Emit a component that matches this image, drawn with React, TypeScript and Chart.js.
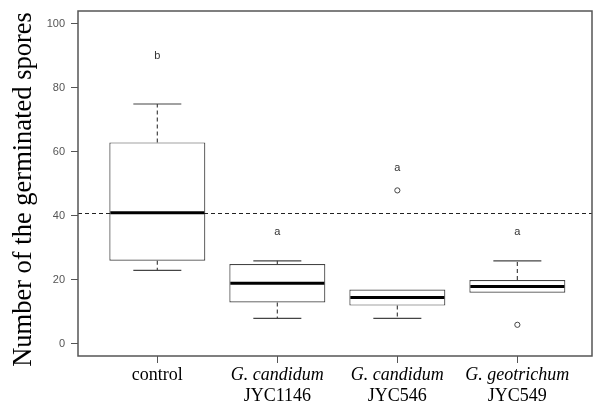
import React, { useEffect, useRef } from "react";
import { Chart, registerables } from "chart.js";

Chart.register(...registerables);

// ---- data ----
const positions = [1, 2, 3, 4];
const labelLine1 = ["control", "G. candidum", "G. candidum", "G. geotrichum"];
const labelLine1Italic = [false, true, true, true];
const labelLine2 = ["", "JYC1146", "JYC546", "JYC549"];
const whiskerLow = [23, 8, 8, 16];
const q1 = [26, 13, 12, 16];
const median = [41, 19, 14.5, 18];
const q3 = [63, 25, 17, 20];
const whiskerHigh = [75, 26, 17, 26];
const outlierGroup = [3, 4];
const outlierValue = [48, 6];
const letters = ["b", "a", "a", "a"];
const letterValue = [90, 35, 55, 35];
const referenceValue = 41;
const yTicks = [0, 20, 40, 60, 80, 100];
const yTitle = "Number of the germinated spores";

const SERIF = "'Liberation Serif', 'Times New Roman', serif";
const SANS = "'Liberation Sans', Arial, sans-serif";

const boxPlugin = {
  id: "boxExtras",
  afterDatasetsDraw(chart: any) {
    const { ctx, chartArea } = chart;
    const xs = chart.scales.x;
    const ys = chart.scales.y;
    ctx.save();
    ctx.strokeStyle = "#222";
    ctx.lineWidth = 1;
    ctx.setLineDash([4, 3]);
    const ry = Math.round(ys.getPixelForValue(referenceValue)) + 0.5;
    ctx.beginPath();
    ctx.moveTo(chartArea.left, ry);
    ctx.lineTo(chartArea.right, ry);
    ctx.stroke();

    positions.forEach((p, i) => {
      const cx = xs.getPixelForValue(p);
      const capL = xs.getPixelForValue(p - 0.2);
      const capR = xs.getPixelForValue(p + 0.2);
      const boxL = xs.getPixelForValue(p - 0.4);
      const boxR = xs.getPixelForValue(p + 0.4);
      ctx.strokeStyle = "#444";
      ctx.lineWidth = 1.2;
      if (whiskerHigh[i] > q3[i]) {
        ctx.setLineDash([4, 3]);
        ctx.beginPath();
        ctx.moveTo(cx, ys.getPixelForValue(q3[i]));
        ctx.lineTo(cx, ys.getPixelForValue(whiskerHigh[i]));
        ctx.stroke();
        ctx.setLineDash([]);
        ctx.beginPath();
        ctx.moveTo(capL, ys.getPixelForValue(whiskerHigh[i]));
        ctx.lineTo(capR, ys.getPixelForValue(whiskerHigh[i]));
        ctx.stroke();
      }
      if (whiskerLow[i] < q1[i]) {
        ctx.setLineDash([4, 3]);
        ctx.beginPath();
        ctx.moveTo(cx, ys.getPixelForValue(q1[i]));
        ctx.lineTo(cx, ys.getPixelForValue(whiskerLow[i]));
        ctx.stroke();
        ctx.setLineDash([]);
        ctx.beginPath();
        ctx.moveTo(capL, ys.getPixelForValue(whiskerLow[i]));
        ctx.lineTo(capR, ys.getPixelForValue(whiskerLow[i]));
        ctx.stroke();
      }
      ctx.setLineDash([]);
      ctx.strokeStyle = "#000";
      ctx.lineWidth = 3;
      ctx.beginPath();
      ctx.moveTo(boxL + 1, ys.getPixelForValue(median[i]));
      ctx.lineTo(boxR - 1, ys.getPixelForValue(median[i]));
      ctx.stroke();
      ctx.fillStyle = "#333";
      ctx.font = `11px ${SANS}`;
      ctx.textAlign = "center";
      ctx.textBaseline = "middle";
      ctx.fillText(letters[i], cx, ys.getPixelForValue(letterValue[i]));
    });
    ctx.restore();
  },
  afterDraw(chart: any) {
    const { ctx, chartArea } = chart;
    const xs = chart.scales.x;
    ctx.save();
    ctx.strokeStyle = "#555";
    ctx.lineWidth = 1.5;
    ctx.strokeRect(chartArea.left, chartArea.top, chartArea.right - chartArea.left, chartArea.bottom - chartArea.top);
    ctx.fillStyle = "#000";
    ctx.textAlign = "center";
    ctx.textBaseline = "alphabetic";
    positions.forEach((p, i) => {
      const cx = xs.getPixelForValue(p);
      ctx.font = `${labelLine1Italic[i] ? "italic " : ""}18px ${SERIF}`;
      ctx.fillText(labelLine1[i], cx, chartArea.bottom + 24);
      if (labelLine2[i]) {
        ctx.font = `18px ${SERIF}`;
        ctx.fillText(labelLine2[i], cx, chartArea.bottom + 45);
      }
    });
    ctx.translate(31, (chartArea.top + chartArea.bottom) / 2 + 6);
    ctx.rotate(-Math.PI / 2);
    ctx.font = `26.5px ${SERIF}`;
    ctx.fillText(yTitle, 0, 0);
    ctx.restore();
  },
};

export default function App() {
  const ref = useRef<HTMLCanvasElement | null>(null);
  useEffect(() => {
    if (!ref.current) return;
    const chart = new Chart(ref.current, {
      type: "bar",
      data: {
        datasets: [
          {
            type: "bar",
            data: positions.map((p, i) => ({ x: p, y: [q1[i], q3[i]] })) as any,
            backgroundColor: "#fff",
            borderColor: "#444",
            borderWidth: 1.2,
            borderSkipped: false,
            categoryPercentage: 0.8,
            barPercentage: 1,
          } as any,
          {
            type: "scatter",
            data: outlierGroup.map((g, i) => ({ x: g, y: outlierValue[i] })),
            pointStyle: "circle",
            pointRadius: 2.6,
            borderColor: "#444",
            borderWidth: 1,
            backgroundColor: "#fff",
          } as any,
        ],
      },
      options: {
        animation: false,
        responsive: false,
        layout: { autoPadding: false, padding: { top: 11, right: 2, left: 0, bottom: 0 } },
        plugins: { legend: { display: false }, tooltip: { enabled: false } },
        scales: {
          x: {
            type: "linear",
            offset: false,
            min: 0.339,
            max: 4.622,
            afterBuildTicks: (s: any) => {
              s.ticks = positions.map((v) => ({ value: v }));
            },
            afterFit: (s: any) => {
              s.height = 49;
              s.paddingLeft = 0;
              s.paddingRight = 0;
            },
            ticks: { callback: () => "", maxRotation: 0, padding: 0 },
            grid: { offset: false, drawOnChartArea: false, drawTicks: true, tickLength: 7, color: "#555" },
            border: { display: false },
          },
          y: {
            type: "linear",
            min: -3.75,
            max: 104.06,
            afterBuildTicks: (s: any) => {
              s.ticks = yTicks.map((v) => ({ value: v }));
            },
            afterFit: (s: any) => {
              s.width = 78;
              s.paddingTop = 0;
              s.paddingBottom = 0;
            },
            ticks: { color: "#555", font: { family: SANS, size: 11 }, padding: 6 },
            grid: { drawOnChartArea: false, drawTicks: true, tickLength: 7, color: "#555" },
            border: { display: false },
          },
        },
      } as any,
      plugins: [boxPlugin],
    });
    return () => chart.destroy();
  }, []);
  return (
    <div style={{ position: "fixed", left: 0, top: 0, width: 594, height: 405, background: "#fff" }}>
      <canvas ref={ref} width={594} height={405} />
    </div>
  );
}
